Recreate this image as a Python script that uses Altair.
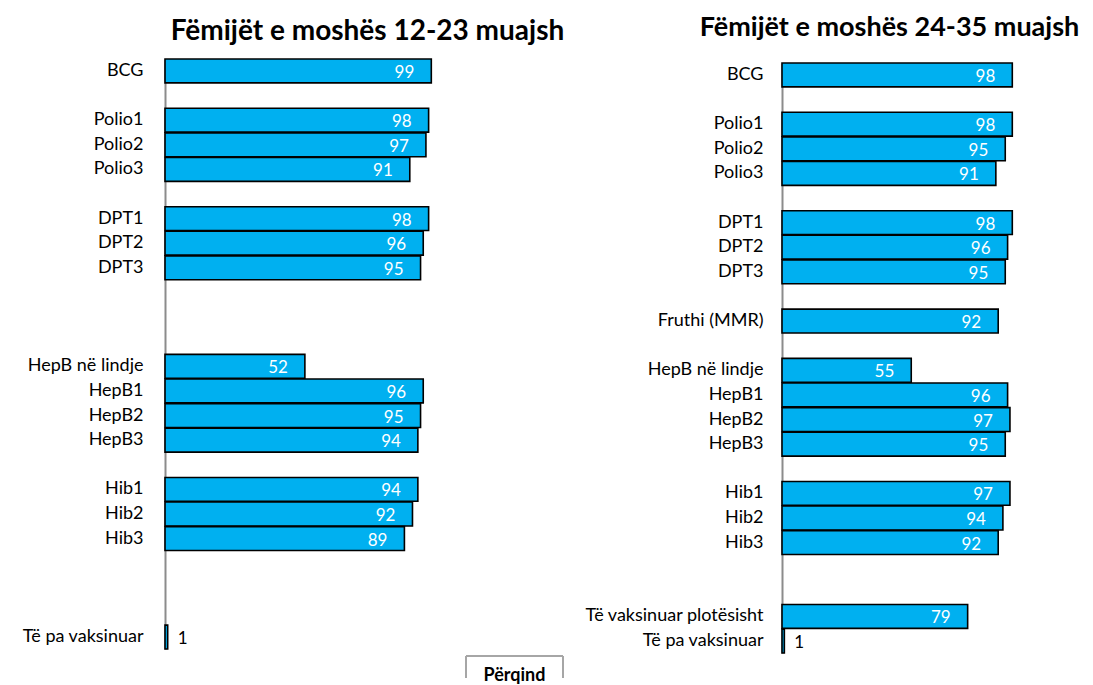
import altair as alt
import pandas as pd

# ---- data ----
left_title = "Fëmijët e moshës 12-23 muajsh"
left_cats = ["BCG", "Polio1", "Polio2", "Polio3", "DPT1", "DPT2", "DPT3",
             "HepB në lindje", "HepB1", "HepB2", "HepB3",
             "Hib1", "Hib2", "Hib3", "Të pa vaksinuar"]
left_vals = [99, 98, 97, 91, 98, 96, 95, 52, 96, 95, 94, 94, 92, 89, 1]
left_rows = ["BCG", "_1", "Polio1", "Polio2", "Polio3", "_2",
             "DPT1", "DPT2", "DPT3", "_3", "_4", "_5",
             "HepB në lindje", "HepB1", "HepB2", "HepB3", "_6",
             "Hib1", "Hib2", "Hib3", "_7", "_8", "_9", "Të pa vaksinuar"]

right_title = "Fëmijët e moshës 24-35 muajsh"
right_cats = ["BCG", "Polio1", "Polio2", "Polio3", "DPT1", "DPT2", "DPT3",
              "Fruthi (MMR)", "HepB në lindje", "HepB1", "HepB2", "HepB3",
              "Hib1", "Hib2", "Hib3", "Të vaksinuar plotësisht", "Të pa vaksinuar"]
right_vals = [98, 98, 95, 91, 98, 96, 95, 92, 55, 96, 97, 95, 97, 94, 92, 79, 1]
right_rows = ["BCG", "_1", "Polio1", "Polio2", "Polio3", "_2",
              "DPT1", "DPT2", "DPT3", "_3", "Fruthi (MMR)", "_4",
              "HepB në lindje", "HepB1", "HepB2", "HepB3", "_5",
              "Hib1", "Hib2", "Hib3", "_6", "_7",
              "Të vaksinuar plotësisht", "Të pa vaksinuar"]

axis_label = "Përqind"

FONT = "Lato"
BLUE = "#00B0F0"


def panel(cats, vals, rows, title, width, yoff, title_dx, title_offset, title_size,
          label_pad, extent, box=False):
    df = pd.DataFrame({"cat": cats, "val": vals})
    H = 590
    y = alt.Y("cat:N", sort=rows,
              scale=alt.Scale(domain=rows, range=[yoff, yoff + H], paddingInner=0.03, paddingOuter=0),
              axis=alt.Axis(title=None, ticks=False, domainColor="#8c8c8c", domainWidth=2,
                            labelFont=FONT, labelFontSize=18, labelColor="#000000",
                            labelPadding=label_pad, labelLimit=300,
                            minExtent=extent, maxExtent=extent,
                            labelExpr="indexof(datum.label, '_') == 0 ? '' : datum.label"))
    x = alt.X("val:Q", scale=alt.Scale(domain=[0, 100], nice=False), axis=None)
    base = alt.Chart(df)
    bars = base.mark_bar(fill=BLUE, stroke="#000000", strokeWidth=1.6).encode(x=x, y=y)
    inside = base.transform_filter("datum.val > 5").mark_text(
        align="right", baseline="middle", dx=-17, dy=2, color="white",
        font=FONT, fontSize=17).encode(x=x, y=y, text="val:Q")
    outside = base.transform_filter("datum.val <= 5").mark_text(
        align="left", baseline="middle", dx=10, dy=2, color="black",
        font=FONT, fontSize=17).encode(x=x, y=y, text="val:Q")
    layers = [bars, inside, outside]
    if box:
        bdf = pd.DataFrame({"t": [axis_label]})
        bb = alt.Chart(bdf)
        c = "#a6a6a6"
        layers += [
            bb.mark_rule(color=c, strokeWidth=2).encode(x=alt.value(301), x2=alt.value(398), y=alt.value(597)),
            bb.mark_rule(color=c, strokeWidth=2).encode(x=alt.value(301), y=alt.value(597), y2=alt.value(619)),
            bb.mark_rule(color=c, strokeWidth=2).encode(x=alt.value(398), y=alt.value(597), y2=alt.value(619)),
            bb.mark_text(font=FONT, fontSize=18, fontWeight="bold", color="black",
                         align="center", baseline="middle").encode(
                x=alt.value(349.5), y=alt.value(617), text="t:N"),
        ]
    return alt.layer(*layers).properties(
        width=width, height=594,
        title=alt.TitleParams(title, font=FONT, fontSize=title_size, fontWeight="bold", color="black",
                              anchor="middle", frame="group", dx=title_dx, offset=title_offset),
    )


left = panel(left_cats, left_vals, left_rows, left_title, 269, 0, 68, 12, 28, 22, 152, box=True)
right = panel(right_cats, right_vals, right_rows, right_title, 235, 4, -10, 17, 27, 19, 200)

chart = alt.hconcat(left, right, spacing=348, bounds="flush").configure_view(stroke=None).properties(
    padding={"left": 5, "top": 6, "right": 0, "bottom": 0})

chart.save("out.html", embed_options={"renderer": "svg", "actions": False})
